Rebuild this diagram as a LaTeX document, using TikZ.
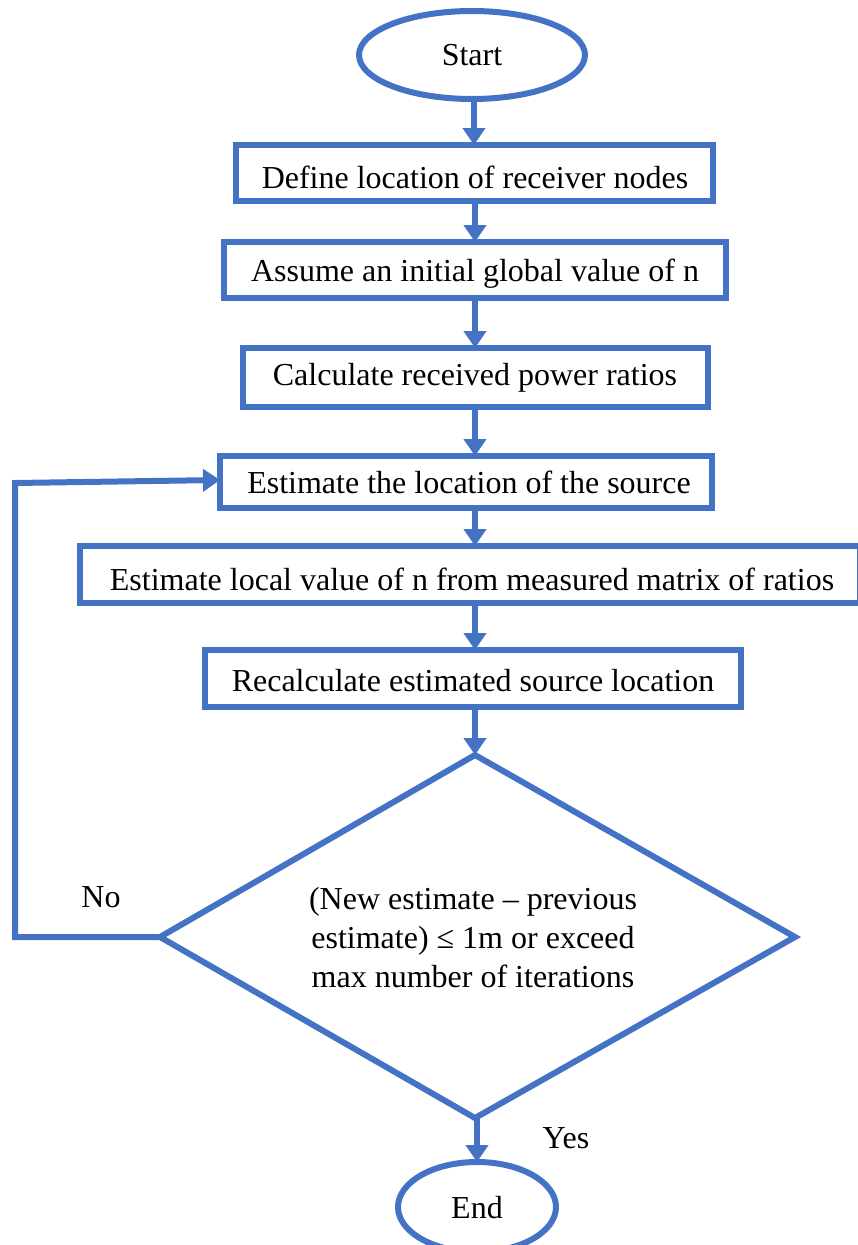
\documentclass[tikz,border=0pt]{standalone}
\usepackage{fontspec}
\setmainfont{Liberation Serif}
\usetikzlibrary{arrows.meta,shapes.geometric}
\definecolor{fc}{HTML}{4472C4}
\begin{document}
\begin{tikzpicture}[x=1pt,y=-1pt,
  every node/.style={font=\fontsize{32}{39}\selectfont},
  ln/.style={draw=fc,line width=6pt},
  arr/.style={ln,-{Triangle[width=22pt,length=17pt]}},
  lbl/.style={inner sep=0pt}]
\useasboundingbox (0,0) rectangle (857,1245);
% terminals
\draw[ln] (472,55) ellipse [x radius=113,y radius=44];
\node[lbl] (start) at (472,55) {Start};
\coordinate (startb) at (474,99);
% boxes
\draw[ln] (236,145) rectangle (713,201);
\node[lbl] (b1) at (475,177) {Define location of receiver nodes};
\draw[ln] (224,242) rectangle (726,298);
\node[lbl] (b2) at (475,274) {Assume an initial global value of n};
\draw[ln] (243,348) rectangle (708,407);
\node[lbl] (b3) at (475,378) {Calculate received power ratios};
\draw[ln] (220,456) rectangle (712,508);
\node[lbl] (b4) at (469,482) {Estimate the location of the source};
\draw[ln] (80,546) rectangle (860,603);
\node[lbl] (b5) at (472,579) {Estimate local value of n from measured matrix of ratios};
\draw[ln] (205,650) rectangle (741,707);
\node[lbl] (b6) at (473,681) {Recalculate estimated source location};
% diamond
\draw[ln,line join=miter] (475,755) -- (795,937) -- (475,1118) -- (160,937) -- cycle;
\node[lbl,align=center] (d) at (473,938) {(New estimate -- previous\\estimate) ≤ 1m or exceed\\max number of iterations};
% end
\draw[ln] (477,1207) ellipse [x radius=79,y radius=45];
\node[lbl] (end) at (477,1208) {End};
% connectors
\coordinate (t1) at (474,145);
\coordinate (s1) at (475,201);
\coordinate (t2) at (475,242);
\coordinate (s2) at (475,298);
\coordinate (t3) at (475,348);
\coordinate (s3) at (475,407);
\coordinate (t4) at (475,456);
\coordinate (s4) at (475,508);
\coordinate (t5) at (475,546);
\coordinate (s5) at (475,603);
\coordinate (t6) at (475,650);
\coordinate (s6) at (475,707);
\coordinate (dt) at (475,755);
\coordinate (db) at (477,1118);
\coordinate (et) at (477,1162);
\coordinate (dl) at (160,937);
\coordinate (b4l) at (220,480);
\draw[arr] (startb) -- (t1);
\draw[arr] (s1) -- (t2);
\draw[arr] (s2) -- (t3);
\draw[arr] (s3) -- (t4);
\draw[arr] (s4) -- (t5);
\draw[arr] (s5) -- (t6);
\draw[arr] (s6) -- (dt);
\draw[arr] (db) -- (et);
\draw[arr,line join=miter] (dl) -- (15,937) -- (15,483) -- (b4l);
\node[lbl] (no) at (101,897) {No};
\node[lbl] (yes) at (566,1138) {Yes};
\end{tikzpicture}
\end{document}
